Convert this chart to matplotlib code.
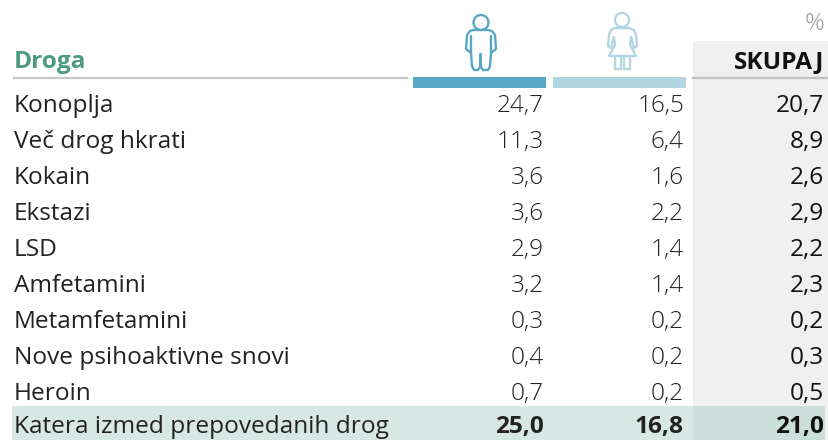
import matplotlib.pyplot as plt
from matplotlib.patches import Circle, Rectangle
from matplotlib.path import Path
from matplotlib.patches import PathPatch

drugs = ['Konoplja', 'Več drog hkrati', 'Kokain', 'Ekstazi', 'LSD', 'Amfetamini',
         'Metamfetamini', 'Nove psihoaktivne snovi', 'Heroin', 'Katera izmed prepovedanih drog']
men = ['24,7', '11,3', '3,6', '3,6', '2,9', '3,2', '0,3', '0,4', '0,7', '25,0']
women = ['16,5', '6,4', '1,6', '2,2', '1,4', '1,4', '0,2', '0,2', '0,2', '16,8']
total = ['20,7', '8,9', '2,6', '2,9', '2,2', '2,3', '0,2', '0,3', '0,5', '21,0']

plt.rcParams['font.family'] = ['Open Sans', 'DejaVu Sans']

BLUE = '#58a7c4'
LIGHT = '#b2d5e2'
FS = 17.6


def line(ax, pts, color):
    codes = [Path.MOVETO] + [Path.LINETO] * (len(pts) - 1)
    ax.add_patch(PathPatch(Path(pts, codes), fill=False, ec=color, lw=1.7,
                           capstyle='round', joinstyle='round'))


def man_icon(ax, color):
    ax.add_patch(Circle((481, 22.5), 7.5, fill=False, ec=color, lw=1.7))
    line(ax, [(473, 30), (470, 31), (467, 35), (466, 49), (471, 53), (472, 66), (474, 70),
              (478, 70), (480, 67), (480.5, 54)], color)
    line(ax, [(488, 30), (492, 31), (495, 35), (496, 49), (491, 53), (490, 66), (488, 70),
              (483, 70), (481, 67), (480.5, 54)], color)
    line(ax, [(473, 30), (488, 30)], color)
    line(ax, [(471, 36), (471, 53)], color)
    line(ax, [(491, 36), (491, 53)], color)


def woman_icon(ax, color):
    ax.add_patch(Circle((622, 20), 7, fill=False, ec=color, lw=1.6))
    line(ax, [(615, 28), (611, 30), (609, 35), (608, 46), (611, 48), (614, 37)], color)
    line(ax, [(629, 28), (634, 30), (636, 35), (637, 46), (634, 48), (631, 37)], color)
    line(ax, [(615, 28), (629, 28)], color)
    line(ax, [(614, 37), (615, 45), (609, 56), (636, 56), (630, 45), (631, 37)], color)
    line(ax, [(615, 56), (615, 69), (621, 69), (621, 56)], color)
    line(ax, [(624, 56), (624, 69), (630, 69), (630, 56)], color)


fig = plt.figure(figsize=(8.29, 4.4), dpi=100)
ax = fig.add_axes([0, 0, 1, 1])
ax.set_xlim(0, 829)
ax.set_ylim(440, 0)
ax.axis('off')

ax.add_patch(Rectangle((693, 41), 136, 399, color='#f0f0f0', lw=0))
ax.add_patch(Rectangle((12, 406), 681, 34, color='#d7e7e3', lw=0))
ax.add_patch(Rectangle((693, 406), 132, 34, color='#cbdfda', lw=0))
ax.plot([14, 407], [78, 78], color='#c8c8c8', lw=1.6)
ax.plot([693, 827], [78, 78], color='#c0c0c0', lw=1.6)
ax.add_patch(Rectangle((413, 77), 133, 11, color=BLUE, lw=0))
ax.add_patch(Rectangle((553, 77), 133, 11, color=LIGHT, lw=0))
man_icon(ax, BLUE)
woman_icon(ax, LIGHT)

ax.text(14, 62, 'Droga', fontsize=FS, fontweight='bold', color='#4c9b82', va='center')
ax.text(824, 62, 'SKUPAJ', fontsize=FS, fontweight='bold', color='#111111', va='center', ha='right')
ax.text(824, 24, '%', fontsize=FS, color='#999999', fontweight='light', va='center', ha='right')

for i, name in enumerate(drugs):
    y = 106 + 36 * i
    last = i == len(drugs) - 1
    if last:
        y -= 3  # keep the descenders inside the figure
    ax.text(14, y, name, fontsize=FS, color='#222222', va='center')
    ax.text(544, y, men[i], fontsize=FS, color='#222222', va='center', ha='right',
            fontweight='bold' if last else 'light')
    ax.text(684, y, women[i], fontsize=FS, color='#222222', va='center', ha='right',
            fontweight='bold' if last else 'light')
    ax.text(824, y, total[i], fontsize=FS, color='#111111', va='center', ha='right',
            fontweight='bold' if last else 'normal')

fig.savefig('out.png', dpi=100)
